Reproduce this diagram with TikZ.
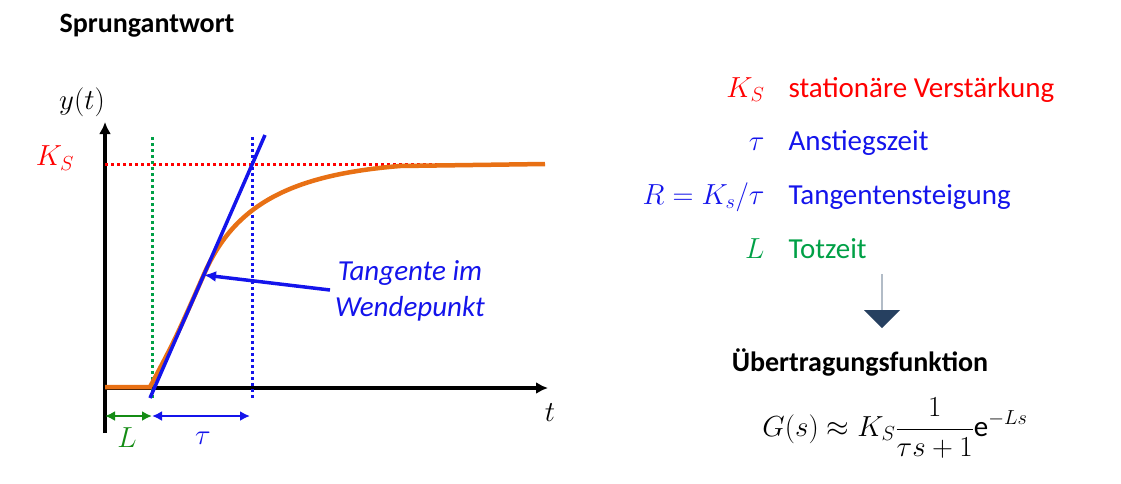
\documentclass[tikz,border=0pt]{standalone}
\usepackage{fix-cm}
\usepackage{fontspec}
\setmainfont{Carlito}
\usetikzlibrary{arrows.meta,shapes.arrows}
\definecolor{colorO}{RGB}{232,112,20}
\definecolor{colorB}{RGB}{20,20,235}
\definecolor{colorG}{RGB}{0,160,70}
\definecolor{colorLG}{RGB}{20,140,20}
\definecolor{colorN}{RGB}{38,64,96}
\tikzset{
  axis/.style={line width=3.5pt,-{Latex[length=12pt,width=12pt]}},
  guide/.style={line width=3pt,dash pattern=on 3pt off 3pt},
  span/.style={line width=2.5pt,{Latex[length=10pt,width=10pt]}-{Latex[length=10pt,width=10pt]}},
  txt/.style={font=\fontsize{29}{34}\selectfont},
  lbl/.style={txt,anchor=base east},
  dsc/.style={txt,anchor=base west}
}
\begin{document}
\begin{tikzpicture}[x=1pt,y=-1pt]
\useasboundingbox (0,0) rectangle (1121,483);

\node (title) [font=\fontsize{28}{32}\selectfont\bfseries] at (147,26) {Sprungantwort};

% axes
\coordinate (O) at (105,388);
\draw [axis] (105,433) -- (105,122) coordinate (ytop);
\draw [axis] (105,388) -- (548,388) coordinate (xend);
\node (ylab) [txt] at (82,102) {$y(t)$};
\node (tlab) [txt] at (550,413) {$t$};

% guides
\draw [guide,red] (105,164) -- (545,164);
\node (ks) [txt,red] at (55,158) {$K_S$};
\draw [guide,colorG] (152,137) -- (152,398);
\draw [guide,colorB] (252,137) -- (252,398);

% response
\draw [colorO,line width=4.5pt] (105,387) -- (150,387) .. controls (175,340) .. (205,272)
  .. controls (235,205) and (290,175) .. (400,166) -- (545,164);
\draw [colorB,line width=3.5pt] (150,398) -- (265,135);

% annotation
\node (tang) [colorB,font=\fontsize{29}{36}\selectfont\itshape,align=center] at (410,291) {Tangente im\\Wendepunkt};
\coordinate (wp) at (204,275);
\draw [colorB,line width=3.5pt,-{Latex[length=12pt,width=11pt]}] (330,290) -- (wp);

% spans
\draw [span,colorLG] (105,416) -- (152,416);
\draw [span,colorB] (152,416) -- (250,416);
\node (L) [txt,colorLG] at (127,438) {$L$};
\node (tau) [txt,colorB] at (203,438) {$\tau$};

% legend
\node (k1) [lbl,red] at (768,97) {$K_S$};
\node [dsc,red] at (785,97) {stationäre Verstärkung};
\node (k2) [lbl,colorB] at (768,150) {$\tau$};
\node [dsc,colorB] at (785,150) {Anstiegszeit};
\node (k3) [lbl,colorB] at (768,204) {$R=K_s/\tau$};
\node [dsc,colorB] at (785,204) {Tangentensteigung};
\node (k4) [lbl,colorG] at (768,258) {$L$};
\node [dsc,colorG] at (785,258) {Totzeit};

\node (down) [single arrow,shape border rotate=270,fill=colorN,minimum width=36pt,
  single arrow head extend=13pt,minimum height=54pt,inner sep=0pt] at (882,301) {};

\node (uf) [font=\fontsize{28}{32}\selectfont\bfseries] at (860,362) {Übertragungsfunktion};
\node (gs) [txt] at (895,428) {$G(s)\approx K_S\displaystyle\frac{1}{\tau s+1}\mathrm{e}^{-Ls}$};
\end{tikzpicture}
\end{document}
